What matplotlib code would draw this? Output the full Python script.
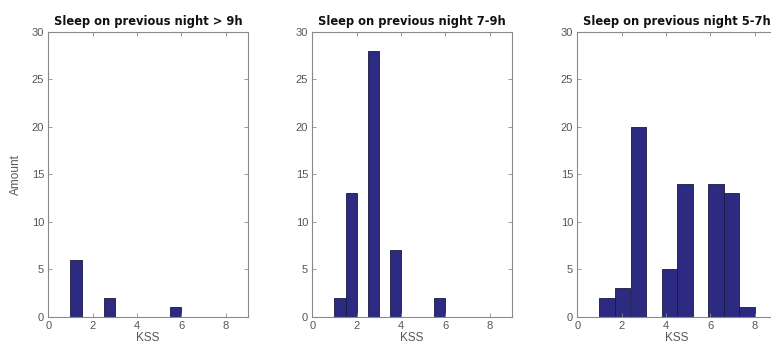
import numpy as np
import matplotlib
matplotlib.use("Agg")
import matplotlib.pyplot as plt

# KSS histograms grouped by sleep duration on the previous night
titles = ["Sleep on previous night > 9h",
          "Sleep on previous night 7-9h",
          "Sleep on previous night 5-7h"]

edges_gt9 = [1.0, 1.5, 2.0, 2.5, 3.0, 3.5, 4.0, 4.5, 5.0, 5.5, 6.0]
counts_gt9 = [6, 0, 0, 2, 0, 0, 0, 0, 0, 1]

edges_7to9 = [1.0, 1.5, 2.0, 2.5, 3.0, 3.5, 4.0, 4.5, 5.0, 5.5, 6.0]
counts_7to9 = [2, 13, 0, 28, 0, 7, 0, 0, 0, 2]

edges_5to7 = [1.0, 1.7, 2.4, 3.1, 3.8, 4.5, 5.2, 5.9, 6.6, 7.3, 8.0]
counts_5to7 = [2, 3, 20, 0, 5, 14, 0, 14, 13, 1]

x_ticks = [0, 2, 4, 6, 8]
y_ticks = [0, 5, 10, 15, 20, 25, 30]

panels = [(edges_gt9, counts_gt9), (edges_7to9, counts_7to9), (edges_5to7, counts_5to7)]

plt.rcParams['font.family'] = ['Liberation Sans', 'DejaVu Sans']

W, H = 771, 347
fig = plt.figure(figsize=(W / 100, H / 100), dpi=100)
fig.patch.set_facecolor('white')

bar_color = '#2d2a82'
edge_color = '#1a1840'
axis_color = '#8a8a8a'
text_color = '#555555'

lefts = [48.3, 312.3, 577.3]
ax_w = 199.5
ax_top = 31.7
ax_bottom = 316.7

for i, ((edges, counts), title) in enumerate(zip(panels, titles)):
    ax = fig.add_axes([lefts[i] / W, 1 - ax_bottom / H, ax_w / W, (ax_bottom - ax_top) / H])
    ax.hist(edges[:-1], bins=edges, weights=counts, color=bar_color,
            edgecolor=edge_color, linewidth=0.6)
    ax.set_xlim(0, 9)
    ax.set_ylim(0, 30)
    ax.set_xticks(x_ticks)
    ax.set_yticks(y_ticks)
    ax.tick_params(direction='in', length=3, width=0.6, color=axis_color,
                   labelcolor=text_color, labelsize=8, top=True, right=True, pad=3)
    for s in ax.spines.values():
        s.set_color(axis_color)
        s.set_linewidth(0.8)
    ax.set_title(title, fontsize=8.3, fontweight='bold', color='#111111', pad=5,
                 family=['DejaVu Sans'])
    ax.set_xlabel('KSS', fontsize=8.5, color=text_color, labelpad=1)
    if i == 0:
        ax.set_ylabel('Amount', fontsize=8.5, color=text_color, labelpad=7)

fig.savefig('out.png', dpi=100, facecolor='white')
